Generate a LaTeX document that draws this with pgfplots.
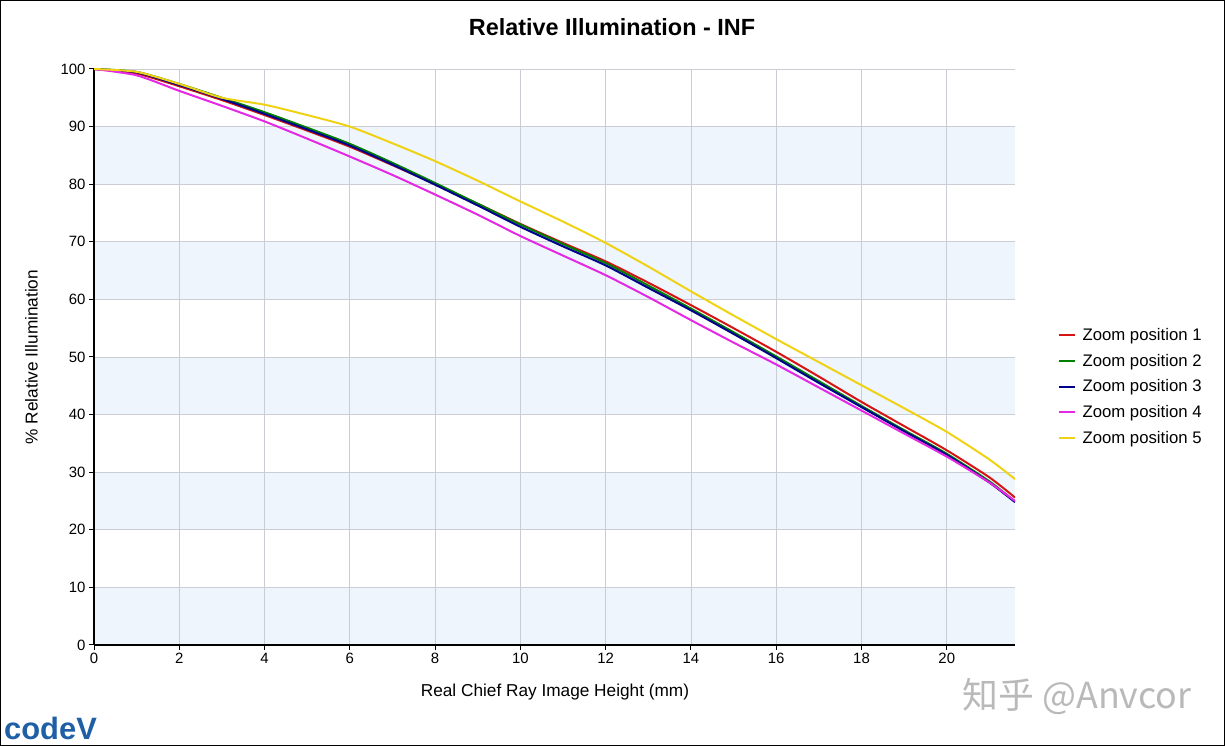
\documentclass[border=0pt]{standalone}
\usepackage{pgfplots}
\pgfplotsset{compat=1.18}
\usepackage{pgfplotstable}
\usepackage{fontspec}
\setmainfont{Liberation Sans}
\newfontfamily\cjk{Noto Sans CJK SC}
\definecolor{cRed}{RGB}{214,20,20}
\definecolor{cGreen}{RGB}{0,128,0}
\definecolor{cBlue}{RGB}{0,0,140}
\definecolor{cMag}{RGB}{228,40,228}
\definecolor{cYel}{RGB}{240,210,20}
\definecolor{band}{RGB}{238,245,252}
\definecolor{gridc}{RGB}{202,206,212}
\definecolor{logo}{RGB}{30,95,165}
\definecolor{wm}{RGB}{185,185,185}

\pgfplotstableread{
x    z1    z2    z3    z4    z5
0    100   100   100   100   100
1    99.2  99.5  99.4  98.9  99.5
2    97.0  97.4  97.2  96.2  97.4
3    94.6  95.0  94.8  93.6  95.0
4    92.0  92.5  92.2  90.9  93.8
5    89.3  89.8  89.5  87.9  92.0
6    86.5  87.0  86.7  84.8  90.0
7    83.3  83.7  83.4  81.6  87.1
8    80.0  80.2  79.9  78.2  84.0
9    76.6  76.6  76.3  74.7  80.6
10   73.1  73.0  72.6  71.0  77.0
11   69.8  69.6  69.2  67.6  73.5
12   66.6  66.3  65.9  64.2  69.8
13   62.9  62.4  62.0  60.4  65.7
14   59.0  58.4  58.1  56.4  61.4
15   55.0  54.3  54.0  52.5  57.2
16   50.9  50.1  49.8  48.7  53.1
17   46.6  45.8  45.5  44.7  49.1
18   42.2  41.5  41.3  40.7  45.1
19   38.0  37.3  37.1  36.7  41.1
20   33.8  33.2  33.0  32.7  37.0
21   29.1  28.4  28.2  28.2  32.2
21.6 25.6  24.9  24.8  25.0  28.8
}\datatable

\begin{document}
\begin{tikzpicture}[x=1bp,y=1bp]
\draw[black, line width=1bp] (0.5,0.5) rectangle (1224.5,745.5);
\node[font=\bfseries\fontsize{23.5}{28}\selectfont] at (612,719) {Relative Illumination - INF};
\begin{axis}[
  set layers,
  at={(94bp,101bp)}, anchor=south west,
  scale only axis, width=921bp, height=576bp,
  xmin=0, xmax=21.6, ymin=0, ymax=100,
  xtick={0,2,...,20}, ytick={0,10,...,100},
  axis lines*=left,
  axis line style={black, line width=1.3bp},
  tick style={black, line width=1bp},
  tick align=outside, major tick length=5bp,
  grid=major, grid style={gridc, line width=0.9bp},
  tick label style={font=\fontsize{15}{18}\selectfont},
  /pgf/number format/assume math mode=true,
  xlabel={Real Chief Ray Image Height (mm)},
  ylabel={\% Relative Illumination},
  every axis x label/.style={at={(rel axis cs:0.5005,-0.0816)}, anchor=center, font=\fontsize{17.3}{20}\selectfont},
  every axis y label/.style={at={(rel axis cs:-0.068,0.5)}, rotate=90, anchor=center, font=\fontsize{17.3}{20}\selectfont},
  legend style={at={(rel axis cs:1.0467,0.447)}, anchor=west, draw=none, fill=none,
    inner sep=0pt, outer sep=0pt, row sep=10bp,
    font=\fontsize{16.8}{20}\selectfont,
    nodes={inner sep=0pt, text height=12.3bp, text depth=3.5bp},
    /tikz/every odd column/.append style={column sep=6.5bp}},
  legend cell align=left,
  legend image code/.code={\draw[#1, line width=2bp] (0bp,1bp) -- (16bp,1bp);},
]
\begin{pgfonlayer}{axis background}
\fill[band] (axis cs:0,0) rectangle (axis cs:21.6,10);
\fill[band] (axis cs:0,20) rectangle (axis cs:21.6,30);
\fill[band] (axis cs:0,40) rectangle (axis cs:21.6,50);
\fill[band] (axis cs:0,60) rectangle (axis cs:21.6,70);
\fill[band] (axis cs:0,80) rectangle (axis cs:21.6,90);
\end{pgfonlayer}
\addplot[cRed, line width=2bp, smooth, tension=0.4] table[x=x, y=z1] {\datatable};
\addlegendentry{Zoom position 1}
\addplot[cGreen, line width=2bp, smooth, tension=0.4] table[x=x, y=z2] {\datatable};
\addlegendentry{Zoom position 2}
\addplot[cBlue, line width=2bp, smooth, tension=0.4] table[x=x, y=z3] {\datatable};
\addlegendentry{Zoom position 3}
\addplot[cMag, line width=2bp, smooth, tension=0.4] table[x=x, y=z4] {\datatable};
\addlegendentry{Zoom position 4}
\addplot[cYel, line width=2bp, smooth, tension=0.4] table[x=x, y=z5] {\datatable};
\addlegendentry{Zoom position 5}
\end{axis}
\node[text=wm, font=\cjk\fontsize{36}{40}\selectfont] at (1077,49) {知乎 @Anvcor};
\node[anchor=south west, inner sep=0pt, text=logo, font=\bfseries\fontsize{31}{34}\selectfont] at (4,6) {codeV};
\end{tikzpicture}
\end{document}
